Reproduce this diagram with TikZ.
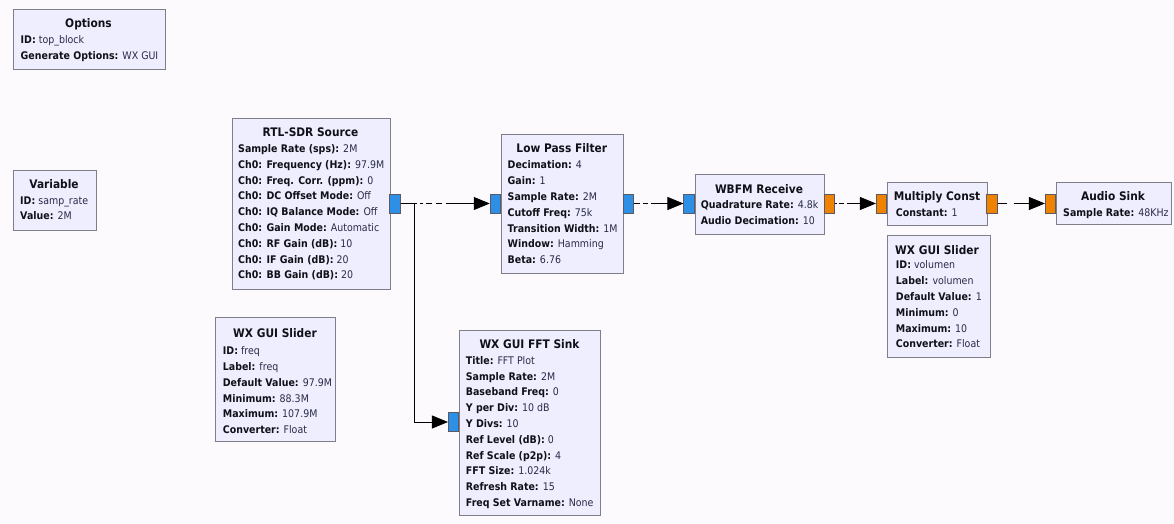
\documentclass[tikz,border=0pt]{standalone}
\usepackage{fontspec}
\setmainfont{DejaVu Sans}[FakeStretch=0.9]
\usetikzlibrary{arrows.meta}
\definecolor{bgcol}{HTML}{FDFAFD}
\definecolor{blockfill}{HTML}{EEEEFE}
\definecolor{blockborder}{HTML}{7F7F8A}
\definecolor{portblue}{HTML}{2D8FE6}
\definecolor{portorange}{HTML}{F08201}
\definecolor{portborder}{HTML}{5A5A66}
\definecolor{keycol}{HTML}{101018}
\definecolor{valcol}{HTML}{2A2A48}
\newcommand{\gkv}[2]{{\bfseries\color{keycol}#1:} {\color{valcol}#2}}
\tikzset{
  blockbox/.style={draw=blockborder, fill=blockfill, line width=0.9pt, anchor=north west, inner sep=0pt},
  ttl/.style={font=\fontsize{11.8}{13}\selectfont\bfseries, text=keycol, anchor=base, inner sep=0pt},
  rowtxt/.style={font=\fontsize{10.5}{12}\selectfont, anchor=base west, inner sep=0pt},
  cport/.style={draw=portborder, fill=portblue, line width=0.6pt, minimum width=10.5pt, minimum height=19pt, inner sep=0pt},
  fport/.style={draw=portborder, fill=portorange, line width=0.6pt, minimum width=10.5pt, minimum height=19pt, inner sep=0pt},
  conn/.style={draw=black, line width=0.8pt, -{Triangle[length=16pt,width=13pt]}},
}
\begin{document}
\begin{tikzpicture}[x=1pt,y=-1pt]
\fill[bgcol] (0,0) rectangle (1174,524);
\useasboundingbox (0,0) rectangle (1174,524);

% Options
\node[blockbox, minimum width=152pt, minimum height=60pt] (opt) at (12.5,9.5) {};
\node[ttl] (opt-t) at (88.5,28) {Options};
\node[rowtxt] (opt-1) at (20.5,44) {\gkv{ID}{top\_block}};
\node[rowtxt] (opt-2) at (20.5,60) {\gkv{Generate Options}{WX GUI}};

% Variable
\node[blockbox, minimum width=83pt, minimum height=60pt] (var) at (12.5,169.5) {};
\node[ttl] (var-t) at (54,188) {Variable};
\node[rowtxt] (var-1) at (20,204) {\gkv{ID}{samp\_rate}};
\node[rowtxt] (var-2) at (20,219) {\gkv{Value}{2M}};

% RTL-SDR Source
\node[blockbox, minimum width=158pt, minimum height=170pt] (rtl) at (231.5,118.5) {};
\node[ttl] (rtl-t) at (310.5,136) {RTL-SDR Source};
\node[rowtxt] (rtl-1) at (238,152.5) {\gkv{Sample Rate (sps)}{2M}};
\node[rowtxt] (rtl-2) at (238,168.3) {\gkv{Ch0: Frequency (Hz)}{97.9M}};
\node[rowtxt] (rtl-3) at (238,184.1) {\gkv{Ch0: Freq. Corr. (ppm)}{0}};
\node[rowtxt] (rtl-4) at (238,199.9) {\gkv{Ch0: DC Offset Mode}{Off}};
\node[rowtxt] (rtl-5) at (238,215.7) {\gkv{Ch0: IQ Balance Mode}{Off}};
\node[rowtxt] (rtl-6) at (238,231.5) {\gkv{Ch0: Gain Mode}{Automatic}};
\node[rowtxt] (rtl-7) at (238,247.3) {\gkv{Ch0: RF Gain (dB)}{10}};
\node[rowtxt] (rtl-8) at (238,263.1) {\gkv{Ch0: IF Gain (dB)}{20}};
\node[rowtxt] (rtl-9) at (238,278.9) {\gkv{Ch0: BB Gain (dB)}{20}};
\node[cport] (rtl-out) at (395,203.5) {};

% Low Pass Filter
\node[blockbox, minimum width=122.5pt, minimum height=138.5pt] (lpf) at (500.5,134) {};
\node[ttl] (lpf-t) at (561.8,152) {Low Pass Filter};
\node[rowtxt] (lpf-1) at (507.5,168.8) {\gkv{Decimation}{4}};
\node[rowtxt] (lpf-2) at (507.5,184.6) {\gkv{Gain}{1}};
\node[rowtxt] (lpf-3) at (507.5,200.4) {\gkv{Sample Rate}{2M}};
\node[rowtxt] (lpf-4) at (507.5,216.2) {\gkv{Cutoff Freq}{75k}};
\node[rowtxt] (lpf-5) at (507.5,232.0) {\gkv{Transition Width}{1M}};
\node[rowtxt] (lpf-6) at (507.5,247.8) {\gkv{Window}{Hamming}};
\node[rowtxt] (lpf-7) at (507.5,263.6) {\gkv{Beta}{6.76}};
\node[cport] (lpf-in) at (495.3,203.5) {};
\node[cport] (lpf-out) at (628.3,203.5) {};

% WBFM Receive
\node[blockbox, minimum width=129.5pt, minimum height=59.5pt] (wbfm) at (694.5,174) {};
\node[ttl] (wbfm-t) at (759,193) {WBFM Receive};
\node[rowtxt] (wbfm-1) at (700.7,208.3) {\gkv{Quadrature Rate}{4.8k}};
\node[rowtxt] (wbfm-2) at (700.7,224.2) {\gkv{Audio Decimation}{10}};
\node[cport] (wbfm-in) at (689,203.5) {};
\node[fport] (wbfm-out) at (829.3,203.5) {};

% Multiply Const
\node[blockbox, minimum width=99.5pt, minimum height=43pt] (mult) at (887,181.5) {};
\node[ttl] (mult-t) at (937,200) {Multiply Const};
\node[rowtxt] (mult-1) at (895.7,216) {\gkv{Constant}{1}};
\node[fport] (mult-in) at (881.5,203.5) {};
\node[fport] (mult-out) at (992,203.5) {};

% Audio Sink
\node[blockbox, minimum width=115pt, minimum height=42.5pt] (audio) at (1056,181.5) {};
\node[ttl] (audio-t) at (1113,200) {Audio Sink};
\node[rowtxt] (audio-1) at (1063,216) {\gkv{Sample Rate}{48KHz}};
\node[fport] (audio-in) at (1050.5,203.5) {};

% WX GUI Slider (volumen)
\node[blockbox, minimum width=103pt, minimum height=122pt] (vol) at (887,235) {};
\node[ttl] (vol-t) at (937,254) {WX GUI Slider};
\node[rowtxt] (vol-1) at (895.7,268.8) {\gkv{ID}{volumen}};
\node[rowtxt] (vol-2) at (895.7,284.6) {\gkv{Label}{volumen}};
\node[rowtxt] (vol-3) at (895.7,300.4) {\gkv{Default Value}{1}};
\node[rowtxt] (vol-4) at (895.7,316.2) {\gkv{Minimum}{0}};
\node[rowtxt] (vol-5) at (895.7,332.0) {\gkv{Maximum}{10}};
\node[rowtxt] (vol-6) at (895.7,347.8) {\gkv{Converter}{Float}};

% WX GUI Slider (freq)
\node[blockbox, minimum width=120pt, minimum height=124pt] (frq) at (215,316.5) {};
\node[ttl] (frq-t) at (275,337) {WX GUI Slider};
\node[rowtxt] (frq-1) at (222.7,354.6) {\gkv{ID}{freq}};
\node[rowtxt] (frq-2) at (222.7,370.4) {\gkv{Label}{freq}};
\node[rowtxt] (frq-3) at (222.7,386.2) {\gkv{Default Value}{97.9M}};
\node[rowtxt] (frq-4) at (222.7,402.0) {\gkv{Minimum}{88.3M}};
\node[rowtxt] (frq-5) at (222.7,417.8) {\gkv{Maximum}{107.9M}};
\node[rowtxt] (frq-6) at (222.7,433.6) {\gkv{Converter}{Float}};

% WX GUI FFT Sink
\node[blockbox, minimum width=141pt, minimum height=185.5pt] (fft) at (459,329.5) {};
\node[ttl] (fft-t) at (529.5,348) {WX GUI FFT Sink};
\node[rowtxt] (fft-1) at (465.7,364.2) {\gkv{Title}{FFT Plot}};
\node[rowtxt] (fft-2) at (465.7,380.0) {\gkv{Sample Rate}{2M}};
\node[rowtxt] (fft-3) at (465.7,395.8) {\gkv{Baseband Freq}{0}};
\node[rowtxt] (fft-4) at (465.7,411.6) {\gkv{Y per Div}{10 dB}};
\node[rowtxt] (fft-5) at (465.7,427.4) {\gkv{Y Divs}{10}};
\node[rowtxt] (fft-6) at (465.7,443.2) {\gkv{Ref Level (dB)}{0}};
\node[rowtxt] (fft-7) at (465.7,459.0) {\gkv{Ref Scale (p2p)}{4}};
\node[rowtxt] (fft-8) at (465.7,474.8) {\gkv{FFT Size}{1.024k}};
\node[rowtxt] (fft-9) at (465.7,490.6) {\gkv{Refresh Rate}{15}};
\node[rowtxt] (fft-10) at (465.7,506.4) {\gkv{Freq Set Varname}{None}};
\node[cport] (fft-in) at (453.5,422) {};

% Connections
\draw[conn, dash pattern=on 16pt off 3pt on 3pt off 3pt on 6pt off 4pt on 6pt off 4pt on 60pt] (rtl-out.east) -- (lpf-in.west);
\draw[conn] (rtl-out.east) -- ++(14,0) |- (fft-in.west);
\draw[conn, dash pattern=on 6pt off 3pt on 5pt off 3pt on 60pt] (lpf-out.east) -- (wbfm-in.west);
\draw[conn, dash pattern=on 2pt off 2pt on 5pt off 3pt on 60pt] (wbfm-out.east) -- (mult-in.west);
\draw[conn, dash pattern=on 9pt off 7pt on 60pt] (mult-out.east) -- (audio-in.west);
\end{tikzpicture}
\end{document}
